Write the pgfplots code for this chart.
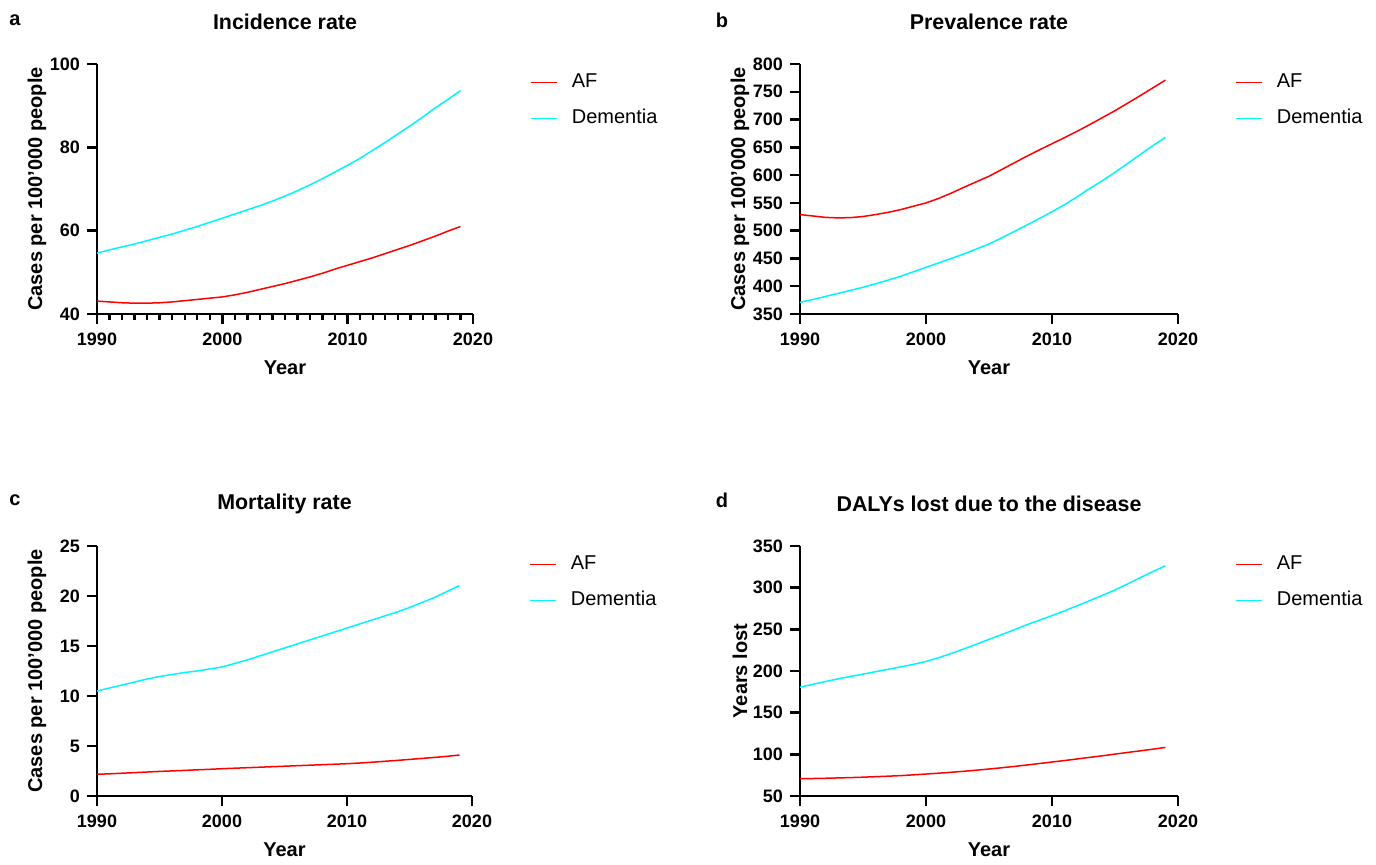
\documentclass[border=0pt]{standalone}
\usepackage{fontspec}
\setmainfont{Liberation Sans}
\usepackage{pgfplots}
\pgfplotsset{compat=1.18}
\definecolor{afred}{HTML}{FF0000}
\definecolor{demcyan}{HTML}{00F5FF}

\pgfplotsset{
  panel/.style={
    scale only axis,
    anchor=south west,
    axis x line*=bottom, axis y line*=left,
    axis line style={line width=1.2pt, black},
    every tick/.append style={line width=1.2pt, black},
    tick align=outside,
    major tick length=5pt, minor tick length=3pt,
    xmin=1990, xmax=2020, xtick={1990,2000,2010,2020},
    /pgf/number format/assume math mode=true,
    /pgf/number format/1000 sep={},
    ticklabel style={font=\fontsize{9}{10}\selectfont\bfseries},
    xticklabel style={yshift=-1pt},
    every axis title/.style={at={(axis description cs:0.5,1)}, anchor=center, yshift=21pt, font=\fontsize{10.7}{12}\selectfont\bfseries},
    every axis x label/.style={at={(axis description cs:0.5,0)}, yshift=-27pt, anchor=center, font=\fontsize{10}{12}\selectfont\bfseries},
    every axis y label/.style={at={(axis description cs:0,0.5)}, xshift=-30pt, rotate=90, anchor=center, font=\fontsize{10}{12}\selectfont\bfseries},
    xlabel={Year},
    legend image code/.code={\draw[##1] (0pt,0pt) -- (13pt,0pt);},
    legend style={draw=none, fill=none, inner sep=0pt,
      at={(axis description cs:1,1)}, anchor=north west, xshift=28.5pt, yshift=-4.5pt,
      font=\fontsize{10}{12}\selectfont, row sep=9pt,
      nodes={inner sep=0pt, text height=7.2pt, text depth=1.8pt, anchor=west},
      /tikz/every odd column/.append style={column sep=7pt}},
    every axis plot/.append style={line width=0.75pt},
  },
}

\begin{document}
\begin{tikzpicture}
\useasboundingbox (0pt,0pt) rectangle (688pt,-432pt);

\node[font=\fontsize{10}{12}\selectfont\bfseries] at (7.5pt,-10pt) {a};
\node[font=\fontsize{10}{12}\selectfont\bfseries] at (361pt,-10pt) {b};
\node[font=\fontsize{10}{12}\selectfont\bfseries] at (7.5pt,-250pt) {c};
\node[font=\fontsize{10}{12}\selectfont\bfseries] at (361pt,-250pt) {d};

% a: incidence
\begin{axis}[panel, at={(48.5pt,-157pt)}, width=188pt, height=125pt,
    ymin=40, ymax=100, ytick={40,60,80,100}, minor xtick={1991,...,2019},
    title={Incidence rate}, ylabel={Cases per 100’000 people}]
\addplot[afred] coordinates {(1990,43.1) (1991,42.9) (1992,42.7) (1993,42.6) (1994,42.6) (1995,42.7) (1996,42.9) (1997,43.2) (1998,43.5) (1999,43.8) (2000,44.1) (2001,44.6) (2002,45.2) (2003,45.9) (2004,46.6) (2005,47.3) (2006,48.1) (2007,48.9) (2008,49.8) (2009,50.8) (2010,51.7) (2011,52.6) (2012,53.5) (2013,54.5) (2014,55.5) (2015,56.5) (2016,57.6) (2017,58.7) (2018,59.9) (2019,61.0)};
\addplot[demcyan] coordinates {(1990,54.6) (1991,55.4) (1992,56.1) (1993,56.8) (1994,57.6) (1995,58.4) (1996,59.2) (1997,60.1) (1998,61.0) (1999,62.0) (2000,63.0) (2001,64.0) (2002,65.0) (2003,66.0) (2004,67.1) (2005,68.3) (2006,69.6) (2007,71.0) (2008,72.5) (2009,74.1) (2010,75.7) (2011,77.4) (2012,79.3) (2013,81.2) (2014,83.2) (2015,85.2) (2016,87.3) (2017,89.5) (2018,91.5) (2019,93.6)};
\legend{AF, Dementia}
\end{axis}

% b: prevalence
\begin{axis}[panel, at={(400pt,-157pt)}, width=189pt, height=125pt,
    ymin=350, ymax=800, ytick={350,400,...,800},
    title={Prevalence rate}, ylabel={Cases per 100’000 people}]
\addplot[afred] coordinates {(1990,529) (1991,526.5) (1992,524) (1993,523) (1994,523.5) (1995,525.5) (1996,529) (1997,533) (1998,538) (1999,544) (2000,550) (2001,558) (2002,567.5) (2003,578) (2004,588) (2005,598) (2006,610) (2007,622) (2008,634) (2009,645.5) (2010,656.5) (2011,667.5) (2012,679) (2013,691) (2014,703.5) (2015,716) (2016,729.5) (2017,743) (2018,757) (2019,771)};
\addplot[demcyan] coordinates {(1990,371) (1991,376) (1992,381.5) (1993,387) (1994,392.5) (1995,398) (1996,404.5) (1997,411) (1998,418) (1999,426) (2000,434) (2001,442) (2002,450) (2003,458) (2004,467) (2005,476) (2006,487) (2007,498.5) (2008,510) (2009,522) (2010,534) (2011,547) (2012,561) (2013,576) (2014,590) (2015,605) (2016,621) (2017,637) (2018,653) (2019,668)};
\legend{AF, Dementia}
\end{axis}

% c: mortality
\begin{axis}[panel, at={(48.5pt,-398pt)}, width=187.5pt, height=125pt,
    ymin=0, ymax=25, ytick={0,5,...,25},
    title={Mortality rate}, ylabel={Cases per 100’000 people}]
\addplot[afred] coordinates {(1990,2.17) (1991,2.22) (1992,2.28) (1993,2.34) (1994,2.40) (1995,2.46) (1996,2.51) (1997,2.56) (1998,2.62) (1999,2.67) (2000,2.73) (2001,2.78) (2002,2.83) (2003,2.88) (2004,2.93) (2005,2.98) (2006,3.03) (2007,3.08) (2008,3.13) (2009,3.18) (2010,3.23) (2011,3.30) (2012,3.38) (2013,3.47) (2014,3.56) (2015,3.66) (2016,3.76) (2017,3.86) (2018,3.97) (2019,4.10)};
\addplot[demcyan] coordinates {(1990,10.5) (1991,10.8) (1992,11.1) (1993,11.4) (1994,11.7) (1995,11.95) (1996,12.15) (1997,12.35) (1998,12.5) (1999,12.7) (2000,12.9) (2001,13.25) (2002,13.6) (2003,14.0) (2004,14.4) (2005,14.8) (2006,15.2) (2007,15.6) (2008,16.0) (2009,16.4) (2010,16.8) (2011,17.2) (2012,17.6) (2013,18.0) (2014,18.4) (2015,18.85) (2016,19.35) (2017,19.85) (2018,20.45) (2019,21.05)};
\legend{AF, Dementia}
\end{axis}

% d: DALYs
\begin{axis}[panel, at={(400pt,-398pt)}, width=189pt, height=125pt,
    ymin=50, ymax=350, ytick={50,100,...,350},
    title={DALYs lost due to the disease}, ylabel={Years lost}]
\addplot[afred] coordinates {(1990,70.8) (1991,71.0) (1992,71.3) (1993,71.7) (1994,72.1) (1995,72.6) (1996,73.2) (1997,73.8) (1998,74.5) (1999,75.4) (2000,76.4) (2001,77.4) (2002,78.5) (2003,79.7) (2004,81.0) (2005,82.4) (2006,83.9) (2007,85.5) (2008,87.2) (2009,89.0) (2010,90.8) (2011,92.6) (2012,94.5) (2013,96.4) (2014,98.3) (2015,100.3) (2016,102.3) (2017,104.2) (2018,106.2) (2019,108.3)};
\addplot[demcyan] coordinates {(1990,180.6) (1991,184.0) (1992,187.3) (1993,190.5) (1994,193.5) (1995,196.3) (1996,199.2) (1997,202.1) (1998,205.0) (1999,208.0) (2000,211.5) (2001,216.0) (2002,221.0) (2003,226.5) (2004,232.2) (2005,238.0) (2006,243.7) (2007,249.5) (2008,255.5) (2009,261.0) (2010,266.5) (2011,272.3) (2012,278.3) (2013,284.5) (2014,290.8) (2015,297.3) (2016,304.5) (2017,312.0) (2018,319.3) (2019,326.3)};
\legend{AF, Dementia}
\end{axis}
\end{tikzpicture}
\end{document}
